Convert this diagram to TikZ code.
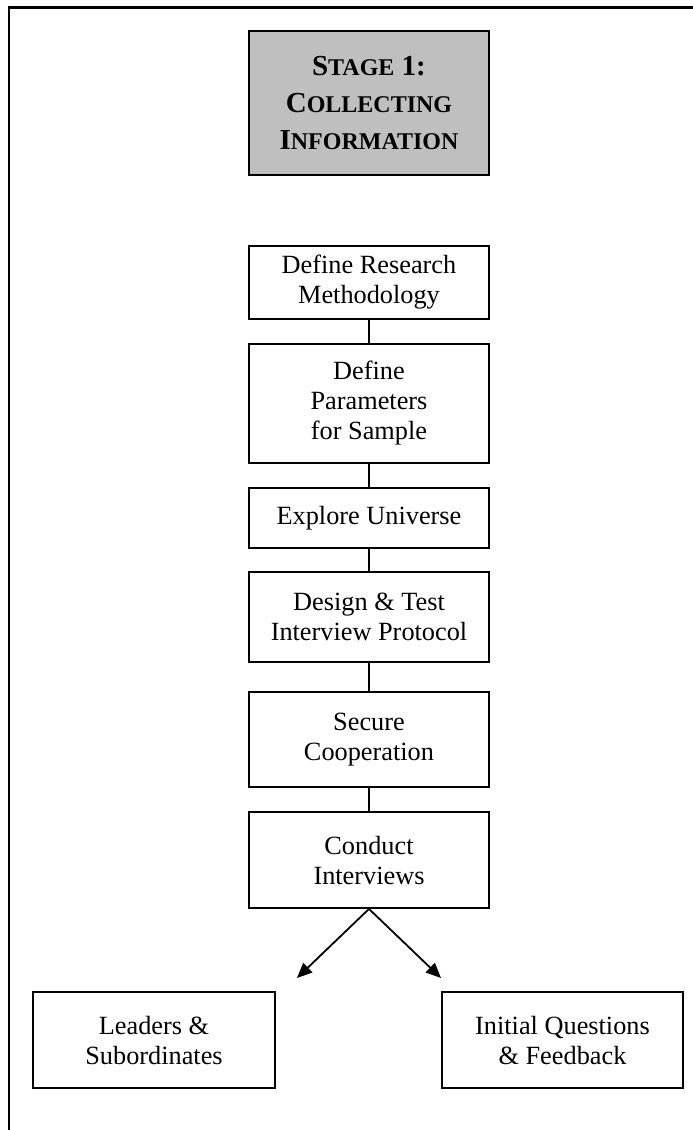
\documentclass[tikz,border=0pt]{standalone}
\usepackage{fontspec}
\setmainfont{Liberation Serif}
\usetikzlibrary{arrows.meta}

% small capitals built from two sizes of bold capitals
\newcommand{\scword}[2]{#1{\fontsize{24}{37}\selectfont #2}}

\begin{document}
\begin{tikzpicture}[x=1pt,y=-1pt,
  stepbox/.style={draw, line width=1.8pt, rectangle, inner sep=0pt,
    minimum width=240pt, align=center,
    font=\fontsize{26.3}{30}\selectfont},
  titlebox/.style={stepbox, fill=black!25,
    font=\bfseries\fontsize{29}{37}\selectfont},
  link/.style={line width=1.8pt},
  branch/.style={line width=1.8pt, -{Triangle[length=15pt,width=13pt]}}]

\useasboundingbox (0,0) rectangle (693,1130);

% page frame
\draw[line width=2.5pt] (9,1131) -- (9,7.5) -- (694,7.5);

% title
\node[titlebox, minimum height=144pt] (stage) at (369,103)
  {\scword{S}{TAGE} 1:\\ \scword{C}{OLLECTING}\\ \scword{I}{NFORMATION}};

% main sequence
\node[stepbox, minimum height=73pt]  (m1) at (369,282.5) {Define Research\\Methodology};
\node[stepbox, minimum height=119pt] (m2) at (369,403.5) {Define\\Parameters\\for Sample};
\node[stepbox, minimum height=60pt]  (m3) at (369,518)   {Explore Universe};
\node[stepbox, minimum height=90pt]  (m4) at (369,617)   {Design \& Test\\Interview Protocol};
\node[stepbox, minimum height=95pt]  (m5) at (369,739.5) {Secure\\Cooperation};
\node[stepbox, minimum height=96pt]  (m6) at (369,860)   {Conduct\\Interviews};

% interview groups
\node[stepbox, minimum width=242pt, minimum height=96pt] (lead) at (154,1040) {Leaders \&\\Subordinates};
\node[stepbox, minimum width=241pt, minimum height=96pt] (init) at (562.5,1040) {Initial Questions\\\& Feedback};

\coordinate (ltip) at (297,978);
\coordinate (rtip) at (441,978);

\draw[link] (m1.south) -- (m2.north);
\draw[link] (m2.south) -- (m3.north);
\draw[link] (m3.south) -- (m4.north);
\draw[link] (m4.south) -- (m5.north);
\draw[link] (m5.south) -- (m6.north);

\draw[branch] (m6.south) -- (ltip);
\draw[branch] (m6.south) -- (rtip);
\end{tikzpicture}
\end{document}
